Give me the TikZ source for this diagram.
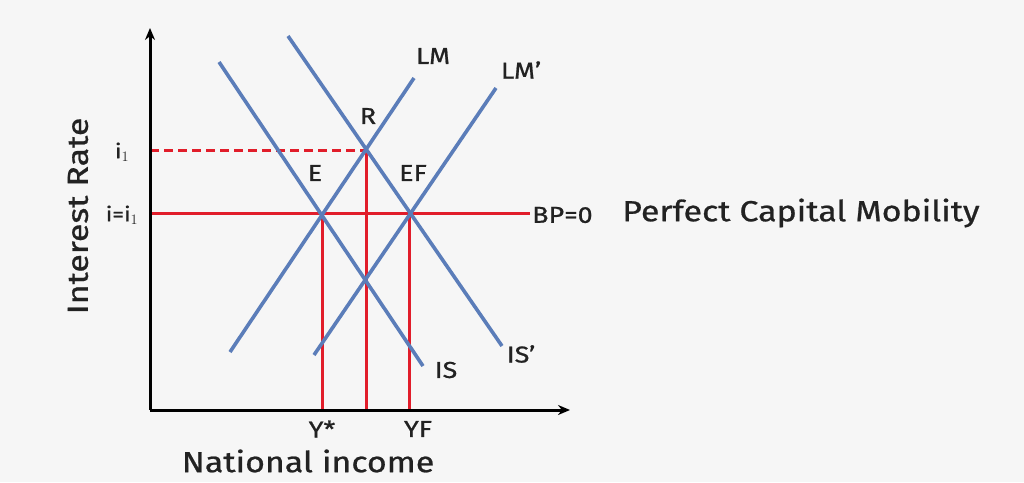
\documentclass[tikz,border=0pt]{standalone}
\usepackage{fontspec}
\setmainfont{Fira Sans}[FakeStretch=1.17, FakeBold=0.8]
\usepackage{xcolor}
\usepackage{tikz}
\usetikzlibrary{arrows.meta, positioning, calc}
\definecolor{curveblue}{HTML}{5B7DB9}
\definecolor{levelred}{HTML}{E11D2A}
\definecolor{paper}{HTML}{F6F6F6}
\definecolor{ink}{HTML}{222222}

\begin{document}
\begin{tikzpicture}[
  x=1pt, y=-1pt,
  axis/.style={line width=3pt, -{Stealth[length=12pt, width=10pt]}},
  curve/.style={draw=curveblue, line width=3.6pt},
  level/.style={draw=levelred, line width=3pt},
  lbl/.style={font=\fontsize{23}{26}\selectfont, text=ink, inner sep=0pt},
  big/.style={font=\fontsize{29}{32}\selectfont, text=ink, inner sep=0pt},
]
  % Frame
  \fill[paper] (0,0) rectangle (1024,482);
  \useasboundingbox (0,0) rectangle (1024,482);

  % Axes
  \coordinate (O) at (150,410);
  \coordinate (ytop) at (150,28);
  \coordinate (xend) at (570,410);

  % Equilibrium points
  \coordinate (E) at (322,213);
  \coordinate (R) at (366,150);
  \coordinate (EF) at (409,213);

  % Curve end points
  \coordinate (is1) at (219,62);
  \coordinate (is2) at (423,366);
  \coordinate (isp1) at (288,36);
  \coordinate (isp2) at (502,346);
  \coordinate (lm1) at (230,352);
  \coordinate (lm2) at (414,78);
  \coordinate (lmp1) at (314,355);
  \coordinate (lmp2) at (496,88);
  \coordinate (bp0) at (150,213);
  \coordinate (bp1) at (530,213);
  \coordinate (ione) at (150,150);

  % Red guides
  \draw[level] (bp0) -- (bp1);
  \draw[level, dashed, dash pattern=on 9pt off 5pt] (ione) -- (R);
  \draw[level] (E) -- (E |- O);
  \draw[level] (R) -- (R |- O);
  \draw[level] (EF) -- (EF |- O);

  % IS and LM curves
  \draw[curve] (is1) -- (is2);
  \draw[curve] (isp1) -- (isp2);
  \draw[curve] (lm1) -- (lm2);
  \draw[curve] (lmp1) -- (lmp2);

  \draw[axis] (O) -- (ytop);
  \draw[axis] (O) -- (xend);

  % Labels
  \node[lbl] (lLM) at (433,56) {LM};
  \node[lbl] (lLMp) at (521,70) {LM'};
  \node[lbl] (lR) at (368,116) {R};
  \node[lbl] (lE) at (315,173) {E};
  \node[lbl] (lEF) at (413,173) {EF};
  \node[lbl] (lIS) at (446,370) {IS};
  \node[lbl] (lISp) at (521,354) {IS'};
  \node[lbl, anchor=west] (lBP) at (532,215) {BP=0};
  \node[big, anchor=west] (mob) at (622,213) {Perfect Capital Mobility};
  \node[lbl, font=\fontsize{20}{22}\selectfont] (li1) at (122,152) {i$_1$};
  \node[lbl, font=\fontsize{20}{22}\selectfont] (li) at (122,215) {i=i$_1$};
  \node[lbl] (lY) at (322,429) {Y*};
  \node[lbl] (lYF) at (418,429) {YF};
  \node[big] (xname) at (308,461) {National income};
  \node[big, rotate=90] (yname) at (78,216) {Interest Rate};
\end{tikzpicture}
\end{document}
